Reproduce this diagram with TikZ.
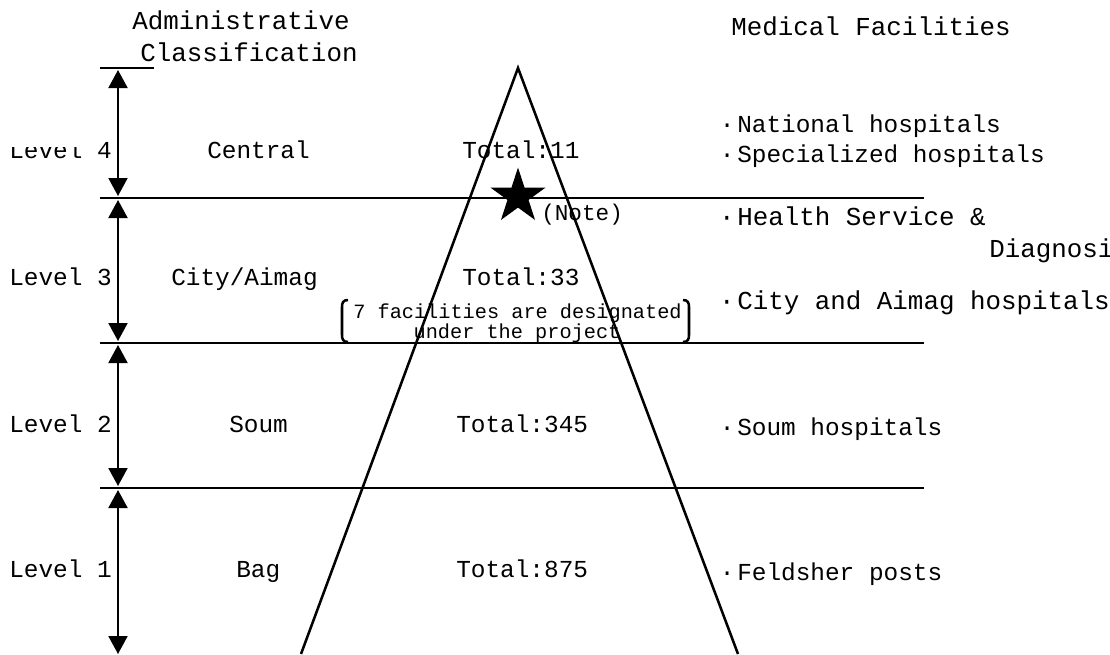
\documentclass[tikz,border=0pt]{standalone}
\usepackage{fontspec}
\setmonofont{Liberation Mono}
\usetikzlibrary{arrows.meta,shapes.geometric}

\begin{document}
\begin{tikzpicture}[x=0.75pt,y=-0.75pt,
  txt/.style={anchor=base west,inner sep=0pt,font=\ttfamily\fontsize{18.3}{20}\selectfont},
  hdr/.style={txt,font=\ttfamily\fontsize{19.4}{22}\selectfont},
  notetxt/.style={txt,font=\ttfamily\fontsize{17}{19}\selectfont},
  small/.style={txt,font=\ttfamily\fontsize{15.2}{17}\selectfont},
  rule/.style={line width=1.9pt},
  tri/.style={line width=1.9pt,line join=miter},
  brk/.style={line width=1.9pt},
  dim/.style={line width=1.5pt,{Triangle[width=14.25pt,length=13.5pt]}-{Triangle[width=14.25pt,length=13.5pt]}},
]
\useasboundingbox (0,0) rectangle (1110,654);
\clip (0,0) rectangle (1110,654);

% column headings
\node[hdr] (adm) at (132,29) {Administrative};
\node[hdr] (cls) at (140,61) {Classification};
\node[hdr] (med) at (731,35) {Medical Facilities};

% level labels
\begin{scope}
  \clip (0,146.5) rectangle (80,175) (80,130) rectangle (116,175);
  \node[txt] (lv4) at (9,158) {Level 4};
\end{scope}
\node[txt] (lv3) at (9,285) {Level 3};
\node[txt] (lv2) at (9,432) {Level 2};
\node[txt] (lv1) at (9,577) {Level 1};

% administrative units
\node[txt] (cen)  at (207,158) {Central};
\node[txt] (city) at (171,285) {City/Aimag};
\node[txt] (soum) at (229,432) {Soum};
\node[txt] (bag)  at (236,577) {Bag};

% totals
\node[txt] (t4) at (462,158) {Total:11};
\node[txt] (t3) at (462,285) {Total:33};
\node[txt] (t2) at (456,432) {Total:345};
\node[txt] (t1) at (456,577) {Total:875};

% medical facilities
\newcommand\bulitem{\llap{·\kern2pt}}
\node[txt] (f4a) at (737,132) {\bulitem National hospitals};
\node[txt] (f4b) at (737,162) {\bulitem Specialized hospitals};
\node[hdr] (f3a) at (737,225) {\bulitem Health Service \&};
\node[hdr] (f3b) at (989,257) {Diagnosis};
\node[hdr] (f3c) at (737,309) {\bulitem City and Aimag hospitals};
\node[txt] (f2)  at (737,435) {\bulitem Soum hospitals};
\node[txt] (f1)  at (737,580) {\bulitem Feldsher posts};

% project note
\node[small] (p1) at (353,318) {7 facilities are designated};
\node[small,anchor=base] (p2) at (517,338) {under the project};
\node[notetxt] (nt) at (541,220) {(Note)};

% brackets round the project note
\draw[brk] (348,300) .. controls (343,300) and (342,303) .. (342,307) -- (342,335) .. controls (342,339) and (343,342) .. (348,342);
\draw[brk] (683,300) .. controls (688,300) and (689,303) .. (689,307) -- (689,335) .. controls (689,339) and (688,342) .. (683,342);

% level boundaries
\coordinate (top0) at (100,68);  \coordinate (top1) at (154,68);
\coordinate (b4l) at (100,198);  \coordinate (b4r) at (924,198);
\coordinate (b3l) at (100,343);  \coordinate (b3r) at (924,343);
\coordinate (b2l) at (100,488);  \coordinate (b2r) at (924,488);
\draw[rule] (top0) -- (top1);
\draw[rule] (b4l) -- (b4r);
\draw[rule] (b3l) -- (b3r);
\draw[rule] (b2l) -- (b2r);

% pyramid
\coordinate (apex) at (518,68);
\coordinate (lf) at (301,654);
\coordinate (rf) at (738,654);
\draw[tri] (lf) -- (apex) -- (rf);

% level extents
\coordinate (d4a) at (118,70);  \coordinate (d4b) at (118,196);
\coordinate (d3a) at (118,200); \coordinate (d3b) at (118,341);
\coordinate (d2a) at (118,345); \coordinate (d2b) at (118,486);
\coordinate (d1a) at (118,490); \coordinate (d1b) at (118,654);
\draw[dim] (d4a) -- (d4b);
\draw[dim] (d3a) -- (d3b);
\draw[dim] (d2a) -- (d2b);
\draw[dim] (d1a) -- (d1b);

% star marking the project level
\node[star,star points=5,star point ratio=2.618,fill=black,draw=none,inner sep=0pt,minimum size=43.5pt] (st) at (518,196.5) {};
\end{tikzpicture}
\end{document}
